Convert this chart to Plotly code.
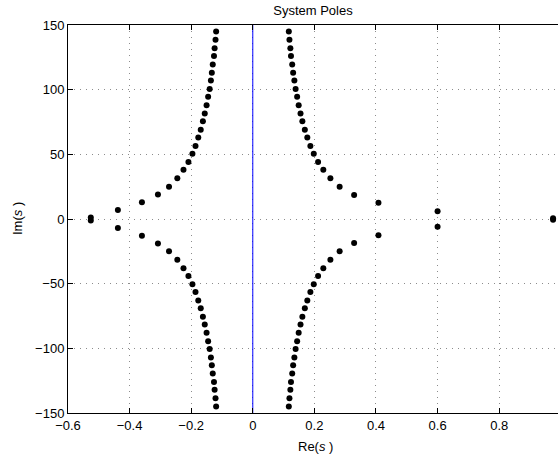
import plotly.graph_objects as go

re_left_upper = [-0.119, -0.121, -0.124, -0.126, -0.130, -0.133, -0.136, -0.140, -0.145, -0.150,
                 -0.156, -0.162, -0.169, -0.177, -0.186, -0.196, -0.209, -0.225, -0.245, -0.272,
                 -0.308, -0.360, -0.438, -0.526]
im_left_upper = [145, 138.5, 132, 126, 119.5, 113, 107, 100.5, 94.5, 88,
                 81.5, 75.5, 69, 63, 56.5, 50.5, 44, 38, 31.5, 25,
                 19, 13, 7, 1.2]
re_left_lower = [-0.119, -0.121, -0.124, -0.126, -0.130, -0.133, -0.136, -0.140, -0.145, -0.150,
                 -0.156, -0.162, -0.169, -0.177, -0.186, -0.196, -0.209, -0.225, -0.245, -0.272,
                 -0.308, -0.360, -0.438, -0.526]
im_left_lower = [-145, -138.5, -132, -126, -119.5, -113, -107, -100.5, -94.5, -88,
                 -81.5, -75.5, -69, -63, -56.5, -50.5, -44, -38, -31.5, -25,
                 -19, -13, -7, -1.2]
re_right_upper = [0.117, 0.119, 0.122, 0.124, 0.128, 0.131, 0.135, 0.139, 0.144, 0.149,
                  0.155, 0.161, 0.169, 0.177, 0.187, 0.198, 0.212, 0.229, 0.252, 0.282,
                  0.329, 0.408, 0.600, 0.975]
im_right_upper = [145, 138.5, 132, 126, 119.5, 113, 107, 100.5, 94.5, 88,
                  81.5, 75.5, 69, 63, 56.5, 50.5, 44, 38, 31.5, 25,
                  18.5, 12.5, 6, 0.6]
re_right_lower = [0.117, 0.119, 0.122, 0.124, 0.128, 0.131, 0.135, 0.139, 0.144, 0.149,
                  0.155, 0.161, 0.169, 0.177, 0.187, 0.198, 0.212, 0.229, 0.252, 0.282,
                  0.329, 0.408, 0.600, 0.975]
im_right_lower = [-145, -138.5, -132, -126, -119.5, -113, -107, -100.5, -94.5, -88,
                  -81.5, -75.5, -69, -63, -56.5, -50.5, -44, -38, -31.5, -25,
                  -18.5, -12.5, -6, -0.6]

# Imaginary axis (stability boundary)
boundary_re = [0, 0]
boundary_im = [-150, 150]

x_tickvals = [-0.6, -0.4, -0.2, 0, 0.2, 0.4, 0.6, 0.8, 1.0]
x_ticktext = ["\u22120.6", "\u22120.4", "\u22120.2", "0", "0.2", "0.4", "0.6", "0.8", "1"]
y_tickvals = [-150, -100, -50, 0, 50, 100, 150]
y_ticktext = ["\u2212150", "\u2212100", "\u221250", "0", "50", "100", "150"]

FONT = "Liberation Sans, Arial, sans-serif"

fig = go.Figure()
fig.add_trace(go.Scatter(x=boundary_re, y=boundary_im, mode="lines",
                         line=dict(color="#0000ff", width=1), showlegend=False,
                         hoverinfo="skip"))
pole_re = re_left_upper + re_left_lower + re_right_upper + re_right_lower
pole_im = im_left_upper + im_left_lower + im_right_upper + im_right_lower
fig.add_trace(go.Scatter(x=pole_re, y=pole_im, mode="markers",
                         marker=dict(color="black", size=6, line=dict(width=0)),
                         showlegend=False))

axis_common = dict(
    showgrid=True, gridcolor="#8c8c8c", griddash="1px,5px", gridwidth=1,
    zeroline=False, showline=True, linecolor="black", linewidth=1,
    ticks="inside", ticklen=5, tickcolor="black",
    tickfont=dict(family=FONT, size=13, color="black"),
)

fig.update_layout(
    width=558, height=454,
    margin=dict(l=68, r=0, t=25, b=41),
    paper_bgcolor="white", plot_bgcolor="white",
    font=dict(family=FONT, size=13, color="black"),
    title=dict(text="System Poles", x=313 / 558, xanchor="center",
               y=1 - 10.5 / 454, yanchor="middle", yref="container",
               font=dict(family=FONT, size=13, color="black")),
    xaxis=dict(range=[-0.6, 0.991], tickvals=x_tickvals, ticktext=x_ticktext,
               mirror="ticks", **axis_common),
    yaxis=dict(range=[-150, 150], tickvals=y_tickvals, ticktext=y_ticktext,
               mirror=False, **axis_common),
    annotations=[
        dict(text="Re(<i>s</i> )", xref="paper", yref="paper", x=(315 - 68) / 490, y=0,
             yshift=-33, xanchor="center", yanchor="middle", showarrow=False,
             font=dict(family=FONT, size=13, color="black")),
        dict(text="Im(<i>s</i> )", xref="paper", yref="paper", x=0, y=0.5,
             xshift=-51, xanchor="center", yanchor="middle", textangle=-90,
             showarrow=False, font=dict(family=FONT, size=13, color="black")),
    ],
)

fig.write_html("out.html",
               config={"displayModeBar": False},
               post_script="document.body.style.margin='0';document.body.style.overflow='hidden';")
